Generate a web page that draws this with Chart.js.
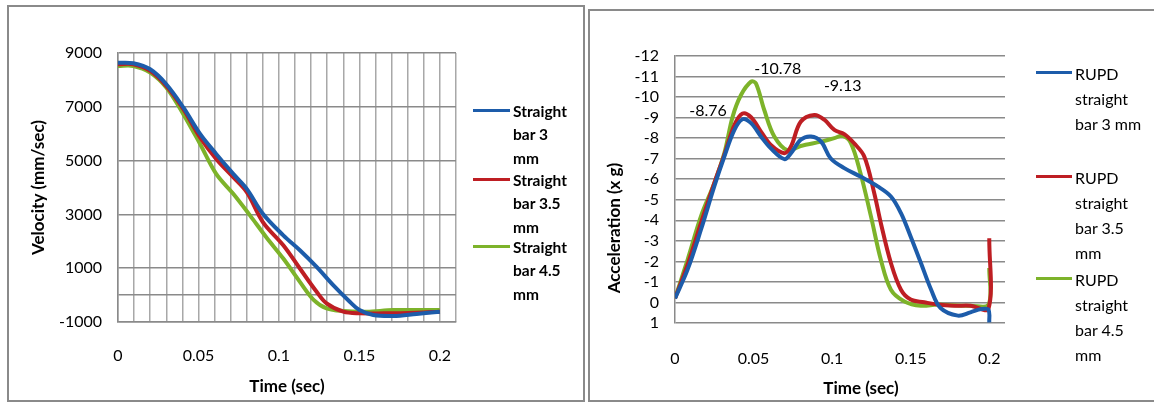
<!DOCTYPE html>
<html><head><meta charset="utf-8">
<script src="https://cdn.jsdelivr.net/npm/chart.js@4.4.0/dist/chart.umd.min.js"></script>
<style>
body{margin:0;width:1154px;height:403px;background:#fff;position:relative;overflow:hidden;font-family:Lato,"Open Sans",sans-serif;}
.panel{position:absolute;box-sizing:border-box;border:2px solid #8a8a8a;}
.wrap{position:absolute;top:0;height:403px;}
.leg{position:absolute;font-size:16px;color:#000;white-space:nowrap;}
#legL .leg{font-weight:bold;font-size:15.5px;}
.sw{position:absolute;height:3px;}
.title{position:absolute;font-weight:bold;font-size:17px;white-space:nowrap;color:#000;}
</style></head>
<body>
<div class="panel" style="left:7px;top:5px;width:578px;height:397px"></div>
<div class="panel" style="left:588px;top:9px;width:600px;height:393px"></div>
<div class="wrap" style="left:0;width:586px"><canvas id="c1"></canvas></div>
<div class="wrap" style="left:588px;width:566px"><canvas id="c2"></canvas></div>
<div id="legL"></div><div id="legR"></div>
<div class="title" id="accTitle" style="left:613px;top:228px;transform:translate(-50%,-50%) rotate(-90deg);">Acceleration (x g)</div>
<div class="title" id="timeTitleR" style="left:861px;top:387px;transform:translate(-50%,-50%);">Time (sec)</div>
<script>
// ---------- data ----------
const seriesColors = ['#1d5caa', '#be1e23', '#7db32a'];
const velNames = [['Straight','bar 3','mm'], ['Straight','bar 3.5','mm'], ['Straight','bar 4.5','mm']];
const accNames = [['RUPD','straight','bar 3 mm'], ['RUPD','straight','bar 3.5','mm'], ['RUPD','straight','bar 4.5','mm']];

const velT3  = [0,0.0095,0.02,0.03,0.0406,0.051,0.061,0.0716,0.08,0.09,0.1027,0.113,0.1234,0.1337,0.144,0.15,0.1586,0.171,0.1855,0.2];
const velV3  = [8640,8618,8395,7840,6975,5990,5247,4506,3950,3025,2222,1667,1049,370,-247,-556,-740,-778,-700,-617];
const velT35 = [0,0.0095,0.02,0.03,0.0406,0.051,0.061,0.0716,0.08,0.09,0.1027,0.113,0.1234,0.1296,0.14,0.15,0.165,0.1855,0.2];
const velV35 = [8580,8580,8333,7778,6914,5864,5062,4383,3827,2716,1852,988,123,-309,-617,-679,-679,-654,-617];
const velT45 = [0,0.0095,0.02,0.03,0.0406,0.051,0.061,0.0716,0.082,0.092,0.1027,0.113,0.1217,0.1296,0.14,0.1545,0.171,0.2];
const velV45 = [8519,8519,8272,7716,6728,5617,4506,3765,2963,2160,1358,494,-185,-494,-593,-617,-556,-556];

const accT3  = [0,0.008,0.0165,0.025,0.0314,0.0378,0.043,0.0484,0.0547,0.061,0.0696,0.0738,0.08,0.0865,0.093,0.099,0.1077,0.118,0.129,0.1374,0.1438,0.15,0.1565,0.163,0.169,0.18,0.188,0.195,0.1995,0.2];
const accA3  = [-0.2,-1.6,-3.54,-5.65,-7.1,-8.4,-8.92,-8.73,-8.08,-7.5,-6.98,-7.27,-7.92,-8.08,-7.83,-7.02,-6.54,-6.13,-5.65,-5.16,-4.35,-3.2,-1.92,-0.62,0.27,0.64,0.48,0.32,0.35,0.97];
const accT35 = [0,0.008,0.0165,0.025,0.0314,0.0378,0.043,0.0484,0.0547,0.061,0.0696,0.0738,0.08,0.0887,0.095,0.1014,0.1077,0.114,0.1205,0.1268,0.131,0.1374,0.1438,0.15,0.1586,0.167,0.1777,0.188,0.1995,0.2];
const accA35 = [-0.2,-1.84,-3.86,-5.81,-7.19,-8.64,-9.2,-9.02,-8.32,-7.67,-7.27,-7.6,-8.8,-9.13,-8.9,-8.4,-8.2,-7.75,-7.1,-5.32,-3.86,-1.92,-0.62,-0.14,-0.01,0.1,0.16,0.16,0.3,-3.13];
const accT45 = [0,0.008,0.0165,0.025,0.0314,0.0367,0.042,0.0484,0.0515,0.0568,0.0632,0.0717,0.08,0.093,0.1014,0.1067,0.112,0.118,0.1247,0.131,0.1374,0.146,0.1565,0.167,0.1777,0.188,0.1995,0.2];
const accA45 = [-0.2,-2.08,-4.19,-5.81,-7.27,-9.05,-10.1,-10.75,-10.67,-9.37,-8.08,-7.4,-7.62,-7.83,-8.0,-8.11,-7.75,-6.3,-4.19,-2.08,-0.62,-0.05,0.16,0.1,0.14,0.16,0.11,-1.68];

const peakLabelText = ['-8.76', '-10.78', '-9.13'];
const peakLabelT = [0.021, 0.0654, 0.1067];
const peakLabelA = [-9.32, -11.37, -10.54];

const velTicks = [-1000, 1000, 3000, 5000, 7000, 9000];
const accTicks = [-12, -11, -10, -9, -8, -7, -6, -5, -4, -3, -2, -1, 0, 1];
const timeLabels = [0, 0.05, 0.1, 0.15, 0.2];

// ---------- helpers ----------
const pts = (T, V) => T.map((t, i) => ({x: t, y: V[i]}));
const ds = (label, T, V, color) => ({label, data: pts(T, V), borderColor: color, backgroundColor: color,
  borderWidth: 4, pointRadius: 0, showLine: true, tension: 0.35, fill: false});
const tickFont = {family: 'Lato', size: 16};
const fmtT = v => String(Number(v.toFixed(2)));

Chart.defaults.font.family = 'Lato';
Chart.defaults.color = '#000';

// ---------- left chart ----------
new Chart(document.getElementById('c1'), {
  type: 'scatter',
  data: {datasets: [
    ds(velNames[0].join(' '), velT3, velV3, seriesColors[0]),
    ds(velNames[1].join(' '), velT35, velV35, seriesColors[1]),
    ds(velNames[2].join(' '), velT45, velV45, seriesColors[2])
  ]},
  options: {
    responsive: true, maintainAspectRatio: false, animation: false, devicePixelRatio: 1,
    layout: {padding: {left: 0, top: 53, right: 130, bottom: 0}},
    plugins: {legend: {display: false}, tooltip: {enabled: false}},
    scales: {
      x: {type: 'linear', min: 0, max: 0.21,
        afterFit: s => { s.height = 81; },
        afterBuildTicks: s => { s.ticks = Array.from({length: 22}, (_, i) => ({value: i / 100})); },
        ticks: {autoSkip: false, maxRotation: 0, font: tickFont, padding: 24,
          callback: (v, i) => (i % 5 === 0 && i <= 20) ? fmtT(v) : ''},
        grid: {color: '#a8a8a8', lineWidth: 1.5, drawTicks: false},
        border: {color: '#8a8a8a', width: 1.5},
        title: {display: true, text: 'Time (sec)', font: {family: 'Lato', size: 17, weight: 'bold'}, padding: {top: 0, bottom: 6}}
      },
      y: {type: 'linear', min: -1000, max: 9000,
        afterFit: s => { s.width = 118; },
        afterBuildTicks: s => { s.ticks = velTicks.concat([0]).sort((a, b) => a - b).map(v => ({value: v})); },
        ticks: {autoSkip: false, font: tickFont, padding: 16, callback: v => v === 0 ? '' : String(v)},
        grid: {color: '#8a8a8a', lineWidth: 1.5, drawTicks: false},
        border: {color: '#8a8a8a', width: 1.5},
        title: {display: true, text: 'Velocity (mm/sec)', font: {family: 'Lato', size: 17, weight: 'bold'}, padding: {top: 28, bottom: 0}}
      }
    }
  }
});

// ---------- right chart ----------
const peakLabels = {
  id: 'peakLabels',
  afterDatasetsDraw(chart) {
    const {ctx, scales: {x, y}} = chart;
    ctx.save();
    ctx.font = '16px Lato'; ctx.fillStyle = '#000'; ctx.textAlign = 'center'; ctx.textBaseline = 'middle';
    peakLabelText.forEach((t, i) => ctx.fillText(t, x.getPixelForValue(peakLabelT[i]), y.getPixelForValue(peakLabelA[i])));
    ctx.restore();
  }
};
new Chart(document.getElementById('c2'), {
  type: 'scatter',
  data: {datasets: [
    ds(accNames[0].join(' '), accT3, accA3, seriesColors[0]),
    ds(accNames[1].join(' '), accT35, accA35, seriesColors[1]),
    ds(accNames[2].join(' '), accT45, accA45, seriesColors[2])
  ]},
  plugins: [peakLabels],
  options: {
    responsive: true, maintainAspectRatio: false, animation: false, devicePixelRatio: 1,
    layout: {padding: {left: 0, top: 56, right: 149, bottom: 0}},
    plugins: {legend: {display: false}, tooltip: {enabled: false}},
    scales: {
      x: {type: 'linear', min: 0, max: 0.21,
        afterFit: s => { s.height = 80; },
        afterBuildTicks: s => { s.ticks = timeLabels.map(v => ({value: v})); },
        ticks: {autoSkip: false, maxRotation: 0, font: tickFont, padding: 18, callback: v => fmtT(v)},
        grid: {display: false},
        border: {display: false}
      },
      y: {type: 'linear', min: -12, max: 1, reverse: true,
        afterFit: s => { s.width = 87; },
        afterBuildTicks: s => { s.ticks = accTicks.map(v => ({value: v})); },
        ticks: {autoSkip: false, font: tickFont, padding: 16, callback: v => String(v)},
        grid: {color: '#8a8a8a', lineWidth: 1.5, drawTicks: false},
        border: {color: '#8a8a8a', width: 1.5}
      }
    }
  }
});

// ---------- HTML legends ----------
function buildLegend(el, names, lineX, lineW, textX, tops, lh) {
  names.forEach((lines, i) => {
    const d = document.createElement('div');
    d.className = 'leg';
    d.style.left = textX + 'px'; d.style.top = tops[i] + 'px'; d.style.lineHeight = lh + 'px';
    d.innerHTML = lines.join('<br>');
    el.appendChild(d);
    const s = document.createElement('div');
    s.className = 'sw';
    s.style.left = lineX + 'px'; s.style.width = lineW + 'px';
    s.style.top = (tops[i] + lh / 2 - 3) + 'px';
    s.style.background = seriesColors[i];
    el.appendChild(s);
  });
}
buildLegend(document.getElementById('legL'), velNames, 473, 37, 513, [100, 169, 236], 23.3);
buildLegend(document.getElementById('legR'), accNames, 1036, 36, 1075, [61, 165, 267], 25);
</script>
</body></html>
